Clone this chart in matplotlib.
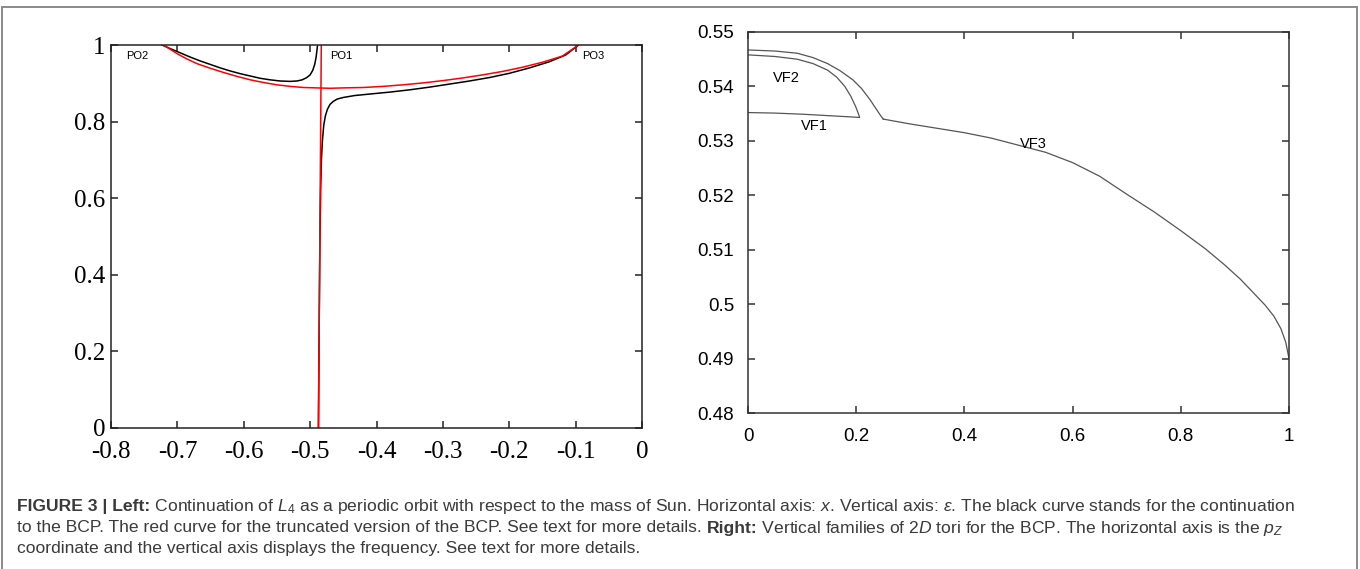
import matplotlib
matplotlib.use("Agg")
import matplotlib.pyplot as plt
from matplotlib import font_manager
from matplotlib.patches import Rectangle

# ---- left panel: continuation of L4 (x vs epsilon) ----
po2_x = [-0.723, -0.710, -0.695, -0.680, -0.665, -0.650, -0.635, -0.620, -0.605,
         -0.590, -0.575, -0.560, -0.545, -0.530, -0.520, -0.512, -0.505, -0.500,
         -0.496, -0.493, -0.491, -0.4898, -0.489]
po2_y = [1.000, 0.990, 0.979, 0.968, 0.958, 0.949, 0.940, 0.932, 0.925,
         0.919, 0.913, 0.909, 0.906, 0.905, 0.906, 0.909, 0.915, 0.922,
         0.934, 0.950, 0.968, 0.985, 0.997]

po1_x = [-0.4875, -0.4862, -0.4852, -0.4842, -0.4830, -0.4815, -0.4795, -0.4770,
         -0.4740, -0.4700, -0.4650, -0.4590, -0.4500, -0.4330, -0.4100, -0.3800,
         -0.3500, -0.3200, -0.2900, -0.2600, -0.2300, -0.2000, -0.1700, -0.1400,
         -0.1150, -0.0960]
po1_y = [0.000, 0.300, 0.500, 0.620, 0.700, 0.750, 0.790, 0.815,
         0.832, 0.845, 0.853, 0.859, 0.863, 0.868, 0.872, 0.877,
         0.883, 0.890, 0.898, 0.906, 0.915, 0.926, 0.940, 0.956,
         0.974, 0.9995]

trunc_x = [-0.721, -0.710, -0.700, -0.685, -0.670, -0.650, -0.630, -0.610, -0.590,
           -0.570, -0.550, -0.530, -0.510, -0.490, -0.470, -0.450, -0.420, -0.390,
           -0.360, -0.330, -0.300, -0.270, -0.240, -0.210, -0.180, -0.150, -0.120,
           -0.096]
trunc_y = [1.000, 0.988, 0.977, 0.963, 0.951, 0.939, 0.928, 0.918, 0.909,
           0.902, 0.896, 0.892, 0.889, 0.888, 0.887, 0.888, 0.889, 0.892,
           0.896, 0.901, 0.907, 0.914, 0.922, 0.931, 0.942, 0.955, 0.971,
           0.9995]

trunc_vert_x = [-0.4875, -0.4832]
trunc_vert_y = [0.0, 1.0]

left_xticks = [-0.8, -0.7, -0.6, -0.5, -0.4, -0.3, -0.2, -0.1, 0.0]
left_xlabels = ["-0.8", "-0.7", "-0.6", "-0.5", "-0.4", "-0.3", "-0.2", "-0.1", "0"]
left_yticks = [0.0, 0.2, 0.4, 0.6, 0.8, 1.0]
left_ylabels = ["0", "0.2", "0.4", "0.6", "0.8", "1"]

# ---- right panel: vertical families of 2D tori ----
vf1_x = [0.0, 0.05, 0.10, 0.154, 0.190, 0.206]
vf1_y = [0.5352, 0.5351, 0.5349, 0.5346, 0.5344, 0.5343]

vf2_inner_x = [0.206, 0.204, 0.199, 0.190, 0.179, 0.164, 0.147, 0.120, 0.091, 0.05, 0.0]
vf2_inner_y = [0.5344, 0.5350, 0.5363, 0.5382, 0.5400, 0.5417, 0.5430, 0.5442, 0.5450,
               0.5455, 0.5458]

vf2_outer_x = [0.0, 0.05, 0.091, 0.120, 0.147, 0.170, 0.194, 0.210, 0.226, 0.236,
               0.244, 0.250]
vf2_outer_y = [0.5467, 0.5465, 0.5461, 0.5453, 0.5442, 0.5429, 0.5412, 0.5396, 0.5375,
               0.5360, 0.5348, 0.5340]

vf3_x = [0.250, 0.300, 0.350, 0.400, 0.450, 0.500, 0.550, 0.600, 0.650, 0.700,
         0.750, 0.800, 0.845, 0.880, 0.910, 0.935, 0.956, 0.972, 0.985, 0.994, 1.000]
vf3_y = [0.5340, 0.5331, 0.5323, 0.5315, 0.5305, 0.5292, 0.5279, 0.5260, 0.5235, 0.5202,
         0.5170, 0.5135, 0.5102, 0.5073, 0.5046, 0.5020, 0.4998, 0.4978, 0.4955, 0.4930,
         0.4900]

right_xticks = [0.0, 0.2, 0.4, 0.6, 0.8, 1.0]
right_xlabels = ["0", "0.2", "0.4", "0.6", "0.8", "1"]
right_yticks = [0.48, 0.49, 0.50, 0.51, 0.52, 0.53, 0.54, 0.55]
right_ylabels = ["0.48", "0.49", "0.5", "0.51", "0.52", "0.53", "0.54", "0.55"]

# caption: (text, bold) runs per line
caption_lines = [
    [("FIGURE 3 | Left:", True),
     (r" Continuation of $L_4$ as a periodic orbit with respect to the mass of Sun. "
      r"Horizontal axis: $x$. Vertical axis: $\varepsilon$. The black curve stands for "
      r"the continuation", False)],
    [("to the BCP. The red curve for the truncated version of the BCP. See text for more "
      "details. ", False),
     ("Right:", True),
     (r" Vertical families of 2$D$ tori for the BCP. The horizontal axis is the $p_Z$", False)],
    [("coordinate and the vertical axis displays the frequency. See text for more details.",
      False)],
]


def pick_font(candidates, default):
    available = {f.name for f in font_manager.fontManager.ttflist}
    for name in candidates:
        if name in available:
            return name
    return default


SERIF = pick_font(["Liberation Serif", "DejaVu Serif"], "DejaVu Serif")
SANS = pick_font(["Liberation Sans", "DejaVu Sans"], "DejaVu Sans")
NARROW = pick_font(["Liberation Sans Narrow", "Liberation Sans"], "DejaVu Sans")

plt.rcParams["mathtext.fontset"] = "custom"
plt.rcParams["mathtext.rm"] = NARROW
plt.rcParams["mathtext.it"] = NARROW + ":italic"
plt.rcParams["mathtext.bf"] = NARROW + ":bold"


def style_box(ax, color, width, length):
    for spine in ax.spines.values():
        spine.set_color(color)
        spine.set_linewidth(width)
    ax.tick_params(direction="in", top=True, right=True, length=length,
                   width=width, color=color)


def draw_runs(fig, x_px, y_px, runs, **kw):
    renderer = fig.canvas.get_renderer()
    W, H = fig.bbox.width, fig.bbox.height
    for text, bold in runs:
        t = fig.text(x_px / W, 1 - y_px / H, text,
                     fontweight="bold" if bold else "normal", **kw)
        x_px += t.get_window_extent(renderer).width


def main():
    fig = plt.figure(figsize=(13.6, 5.69), dpi=100)

    # outer frame of the figure panel
    fig.add_artist(Rectangle((1.5 / 1360, -0.05), 1355 / 1360, 1.05 - 7 / 569,
                             transform=fig.transFigure, fill=False,
                             edgecolor="#8a8a8a", linewidth=1.4))

    # left
    ax = fig.add_axes([111 / 1360, 1 - 428 / 569, 531 / 1360, 383 / 569])
    ax.plot(po2_x, po2_y, color="black", linewidth=1.1)
    ax.plot(po1_x, po1_y, color="black", linewidth=1.1)
    ax.plot(trunc_x, trunc_y, color="red", linewidth=1.1)
    ax.plot(trunc_vert_x, trunc_vert_y, color="red", linewidth=1.1)
    ax.set_xlim(-0.8, 0)
    ax.set_ylim(0, 1)
    ax.set_xticks(left_xticks)
    ax.set_xticklabels(left_xlabels, family=SERIF, fontsize=18)
    ax.set_yticks(left_yticks)
    ax.set_yticklabels(left_ylabels, family=SERIF, fontsize=18)
    style_box(ax, "#222222", 1.1, 5)
    ax.tick_params(axis="x", pad=9)
    ax.tick_params(axis="y", pad=4)
    ax.text(-0.761, 0.970, "PO2", family=SANS, fontsize=8, ha="center", va="center")
    ax.text(-0.453, 0.970, "PO1", family=SANS, fontsize=8, ha="center", va="center")
    ax.text(-0.073, 0.970, "PO3", family=SANS, fontsize=8, ha="center", va="center")

    # right
    ax2 = fig.add_axes([748 / 1360, 1 - 413 / 569, 541 / 1360, 381 / 569])
    line = dict(color="#555555", linewidth=0.9)
    ax2.plot(vf1_x, vf1_y, **line)
    ax2.plot(vf2_inner_x, vf2_inner_y, **line)
    ax2.plot(vf2_outer_x, vf2_outer_y, **line)
    ax2.plot(vf3_x, vf3_y, **line)
    ax2.set_xlim(0, 1)
    ax2.set_ylim(0.48, 0.55)
    ax2.set_xticks(right_xticks)
    ax2.set_xticklabels(right_xlabels, family=SANS, fontsize=13.5)
    ax2.set_yticks(right_yticks)
    ax2.set_yticklabels(right_ylabels, family=SANS, fontsize=13.5)
    style_box(ax2, "#333333", 1.1, 5)
    ax2.tick_params(axis="x", pad=11)
    ax2.tick_params(axis="y", pad=10)
    ax2.text(0.071, 0.5415, "VF2", family=SANS, fontsize=10.5, ha="center", va="center")
    ax2.text(0.123, 0.5327, "VF1", family=SANS, fontsize=10.5, ha="center", va="center")
    ax2.text(0.527, 0.5295, "VF3", family=SANS, fontsize=10.5, ha="center", va="center")

    # caption
    cap = dict(family=NARROW, fontsize=12.6, color="#3a3a3a", va="center", ha="left")
    for y, runs in zip([507, 528, 549], caption_lines):
        draw_runs(fig, 17, y, runs, **cap)

    fig.savefig("out.png", dpi=100)
    plt.close(fig)


if __name__ == "__main__":
    main()
